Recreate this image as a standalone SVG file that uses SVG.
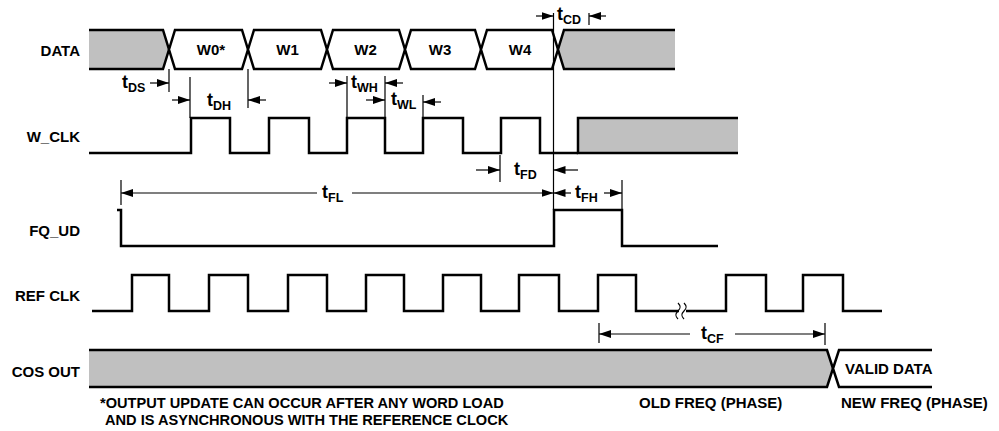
<svg xmlns="http://www.w3.org/2000/svg" width="999" height="431" viewBox="0 0 999 431">
<defs>
<marker id="ah" markerUnits="userSpaceOnUse" markerWidth="13" markerHeight="9" refX="12" refY="4" orient="auto">
<path d="M0,0 L12,4 L0,8 Z" fill="#000"/>
</marker>
<style>
.sig{fill:none;stroke:#000;stroke-width:2.5;stroke-linejoin:miter}
.gray{fill:#c0c0c0;stroke:#000;stroke-width:2.5}
.cell{fill:#fff;stroke:#000;stroke-width:2.5}
.thin{fill:none;stroke:#000;stroke-width:1.2}
.arr{fill:none;stroke:#000;stroke-width:1.2;marker-end:url(#ah)}
text{font-family:"Liberation Sans",Arial,sans-serif;font-weight:bold;fill:#000}
.lbl{font-size:15px;text-anchor:end}
.w{font-size:15px;text-anchor:middle}
.t{font-size:18px}
.sub{font-size:12.5px}
.note{font-size:14.6px}
</style>
</defs>
<rect width="999" height="431" fill="#fff"/>

<g id="data">
<text class="lbl" x="80" y="56">DATA</text>
<path class="gray" d="M89,30 H163 L169,49.5 L163,69 H89"/>
<path class="cell" d="M169,49.5 L175,30 H242 L248,49.5 L242,69 H175 Z"/>
<path class="cell" d="M248,49.5 L254,30 H321 L327,49.5 L321,69 H254 Z"/>
<path class="cell" d="M327,49.5 L333,30 H399 L405,49.5 L399,69 H333 Z"/>
<path class="cell" d="M405,49.5 L411,30 H475 L481,49.5 L475,69 H411 Z"/>
<path class="cell" d="M481,49.5 L487,30 H552 L558,49.5 L552,69 H487 Z"/>
<path class="gray" d="M675,30 H564 L558,49.5 L564,69 H675"/>
<text class="w" x="211" y="55">W0*</text>
<text class="w" x="287.5" y="55">W1</text>
<text class="w" x="365.5" y="55">W2</text>
<text class="w" x="440" y="55">W3</text>
<text class="w" x="520" y="55">W4</text>
</g>

<g id="w_clk">
<text class="lbl" x="80" y="142">W_CLK</text>
<path class="gray" d="M738,118 H578 V153 H738"/>
<path class="sig" d="M89,153 H191 V118 H230 V153 H269 V118 H309 V153 H347 V118 H385 V153 H423 V118 H463 V153 H501 V118 H540 V153 H578"/>
</g>

<g id="fq_ud">
<text class="lbl" x="80" y="236">FQ_UD</text>
<path class="sig" d="M117,210 H121 V246 H554 V210 H622 V246 H718"/>
</g>

<g id="ref_clk">
<text class="lbl" x="80" y="301">REF CLK</text>
<path class="sig" d="M92,311 H132 V275 H169 V311 H209 V275 H248 V311 H288 V275 H327 V311 H366 V275 H404 V311 H443 V275 H481 V311 H519 V275 H559 V311 H598 V275 H636 V311 H679 M686,311 H726 V275 H766 V311 H803 V275 H843 V311 H882"/>
<path class="thin" stroke-width="1.5" d="M678,303 c3,3 3,5 0,8 c-3,3 -3,5 0,8 M684,303 c3,3 3,5 0,8 c-3,3 -3,5 0,8"/>
</g>

<g id="cos_out">
<text class="lbl" x="80" y="377">COS OUT</text>
<path class="gray" d="M89,350 H827 L833,368.5 L827,387 H89"/>
<path class="cell" d="M932,350 H839 L833,368.5 L839,387 H932"/>
<text x="845" y="374" style="font-size:15px">VALID DATA</text>
<text x="639" y="408" style="font-size:15px">OLD FREQ (PHASE)</text>
<text x="841" y="408" style="font-size:15px">NEW FREQ (PHASE)</text>
</g>

<g id="connectors">
<path class="thin" d="M169,69 V92 M190,77 V118 M248,69 V108 M347,76 V118 M385,76 V118 M423,95 V118 M500,155 V182 M553.5,13 V210 M589,13 V25 M121,180 V205 M622,180 V210 M599,323 V343 M825,323 V345"/>
<line class="arr" x1="150" y1="83" x2="169" y2="83"/>
<line class="arr" x1="172" y1="100" x2="190" y2="100"/>
<line class="arr" x1="266" y1="100" x2="248" y2="100"/>
<line class="arr" x1="329" y1="83" x2="347" y2="83"/>
<line class="arr" x1="403" y1="83" x2="385" y2="83"/>
<line class="arr" x1="366" y1="100" x2="385" y2="100"/>
<line class="arr" x1="441" y1="102" x2="423" y2="102"/>
<line class="arr" x1="536" y1="16" x2="553.5" y2="16"/>
<line class="arr" x1="606" y1="16" x2="589" y2="16"/>
<line class="arr" x1="476" y1="170" x2="500" y2="170"/>
<line class="arr" x1="578" y1="170" x2="553.5" y2="170"/>
<line class="arr" x1="317" y1="193" x2="121" y2="193"/>
<line class="arr" x1="352" y1="193" x2="553.5" y2="193"/>
<line class="arr" x1="571" y1="193" x2="553.5" y2="193"/>
<line class="arr" x1="604" y1="193" x2="622" y2="193"/>
<line class="arr" x1="690" y1="334" x2="599" y2="334"/>
<line class="arr" x1="735" y1="334" x2="825" y2="334"/>
<text x="122" y="88"><tspan class="t">t</tspan><tspan class="sub" dy="4">DS</tspan></text>
<text x="207" y="106"><tspan class="t">t</tspan><tspan class="sub" dy="4">DH</tspan></text>
<text x="351" y="88"><tspan class="t">t</tspan><tspan class="sub" dy="4">WH</tspan></text>
<text x="391" y="105"><tspan class="t">t</tspan><tspan class="sub" dy="4">WL</tspan></text>
<text x="557" y="20"><tspan class="t">t</tspan><tspan class="sub" dy="4">CD</tspan></text>
<text x="514" y="175"><tspan class="t">t</tspan><tspan class="sub" dy="4">FD</tspan></text>
<text x="322" y="198"><tspan class="t">t</tspan><tspan class="sub" dy="4">FL</tspan></text>
<text x="575" y="198"><tspan class="t">t</tspan><tspan class="sub" dy="4">FH</tspan></text>
<text x="701" y="339"><tspan class="t">t</tspan><tspan class="sub" dy="4">CF</tspan></text>
</g>

<g id="footnote">
<text class="note" x="100" y="408">*OUTPUT UPDATE CAN OCCUR AFTER ANY WORD LOAD</text>
<text class="note" x="105" y="425">AND IS ASYNCHRONOUS WITH THE REFERENCE CLOCK</text>
</g>
</svg>
